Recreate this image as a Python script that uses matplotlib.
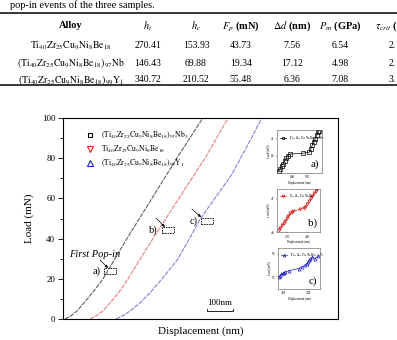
import matplotlib
matplotlib.use('Agg')
import matplotlib.pyplot as plt
from matplotlib.lines import Line2D
from matplotlib.patches import Rectangle

plt.rcParams['font.family'] = ['Liberation Serif', 'DejaVu Serif']
plt.rcParams['mathtext.fontset'] = 'stix'

W, H = 397, 340

# table values
headers = ['Alloy', r'$h_t$', r'$h_c$', r'$F_p$ (mN)', r'$\Delta d$ (nm)', r'$P_m$ (GPa)']
alloys = [r'$\mathrm{Ti_{40}Zr_{25}Cu_{9}Ni_{8}Be_{18}}$',
          r'$\mathrm{(Ti_{40}Zr_{25}Cu_{9}Ni_{8}Be_{18})_{97}Nb}$',
          r'$\mathrm{(Ti_{40}Zr_{25}Cu_{9}Ni_{8}Be_{18})_{99}Y_{1}}$']
ht = ['270.41', '146.43', '340.72']
hc = ['153.93', '69.88', '210.52']
Fp = ['43.73', '19.34', '55.48']
dd = ['7.56', '17.12', '6.36']
Pm = ['6.54', '4.98', '7.08']
tau = ['2.', '2.', '3.']

# main curves (displacement nm, load mN)
nb_x = [8, 30, 54, 74, 94, 122, 154, 200, 246, 294, 342, 390, 438, 488, 538]
nb_y = [0, 1.5, 4, 7, 10, 14.5, 20, 30, 40, 50, 60, 70, 80, 90, 100]
base_x = [104, 126, 154, 174, 194, 222, 250, 298, 346, 396, 446, 496, 546, 591, 635]
base_y = [0, 1.5, 4, 7, 10, 14.5, 20, 30, 40, 50, 60, 70, 80, 90, 100]
y1_x = [204, 235, 258, 296, 338, 381, 440, 478, 527, 570, 612, 650, 681, 725, 765]
y1_y = [0, 2, 4, 8, 13.5, 20, 29.5, 38, 49.5, 57.5, 65, 72, 79.5, 90, 100]

leg_labels = [r'$\mathrm{(Ti_{40}Zr_{25}Cu_{9}Ni_{8}Be_{18})_{97}Nb_{3}}$',
              r'$\mathrm{Ti_{40}Zr_{25}Cu_{9}Ni_{8}Be_{18}}$',
              r'$\mathrm{(Ti_{40}Zr_{25}Cu_{9}Ni_{8}Be_{18})_{99}Y_{1}}$']

# inset data around first pop-in
a_x = [131.0, 132.0, 133.0, 134.0, 135.0, 136.0, 137.0, 138.5, 147.5, 151.5, 152.5, 153.5, 154.5, 155.5, 156.5, 157.5, 158.0]
a_y = [17.2, 17.5, 17.8, 18.1, 18.4, 18.7, 19.0, 19.2, 19.3, 19.4, 19.8, 20.2, 20.6, 21.0, 21.4, 21.8, 21.9]
b_x = [265.8, 266.6, 267.4, 268.2, 269.0, 269.8, 270.6, 271.4, 272.4, 273.0, 276.3, 278.2, 278.7, 279.6, 280.5, 281.4, 282.3, 283.2, 284.0, 284.7]
b_y = [40.4, 40.9, 41.4, 41.9, 42.4, 42.9, 43.4, 43.9, 44.2, 44.3, 44.8, 45.1, 45.3, 45.9, 46.5, 47.1, 47.6, 48.1, 48.6, 49.0]
c_x = [337.3, 337.75, 338.2, 338.65, 339.1, 339.55, 340.75, 344.35, 345.55, 346.75, 347.2, 347.65, 348.1, 348.55, 349.0, 350.2, 351.4]
c_y = [52.1, 52.3, 52.5, 52.7, 52.8, 52.9, 53.1, 53.5, 53.8, 54.1, 54.3, 54.6, 54.9, 55.1, 55.4, 55.2, 55.6]


def fx(px):
    return px / W


def fy(py):
    return 1 - py / H


fig = plt.figure(figsize=(W / 100, H / 100), dpi=100)

# caption remnant + table
fig.text(fx(10), fy(0.5), 'pop-in events of the three samples.', fontsize=7.5, va='top')
fig.add_artist(Line2D([0, 1], [fy(13), fy(13)], lw=1.1, color='k'))
fig.add_artist(Line2D([0, 1], [fy(85), fy(85)], lw=1.1, color='k'))

col_x = [71, 148, 196, 241, 292, 340]
for x, h in zip(col_x, headers):
    fig.text(fx(x), fy(26), h, fontsize=7.5, fontweight='bold', ha='center', va='center')
fig.text(fx(375), fy(26), r'$\tau_{crit}$ (', fontsize=7.5, fontweight='bold', ha='left', va='center')

row_y = [46, 63, 80]
for i in range(3):
    vals = [alloys[i], ht[i], hc[i], Fp[i], dd[i], Pm[i]]
    for x, v in zip(col_x, vals):
        fig.text(fx(x), fy(row_y[i]), v, fontsize=7, ha='center', va='center')
    fig.text(fx(389), fy(row_y[i]), tau[i], fontsize=7, ha='left', va='center')

# main chart
ax = fig.add_axes([fx(63), fy(319), 275 / W, 201 / H])
ax.plot(nb_x, nb_y, color='#606060', lw=0.8, ls=(0, (4, 1)))
ax.plot(base_x, base_y, color='#e58080', lw=0.8, ls=(0, (4, 1)))
ax.plot(y1_x, y1_y, color='#8080d8', lw=0.8, ls=(0, (4, 1)))
ax.set_xlim(0, 1058)
ax.set_ylim(0, 100)
ax.set_xticks([])
ax.set_yticks([0, 20, 40, 60, 80, 100])
ax.set_yticks([10, 30, 50, 70, 90], minor=True)
ax.tick_params(axis='y', which='major', direction='out', length=3.5, width=0.6, labelsize=6.5, pad=2)
ax.tick_params(axis='y', which='minor', direction='out', length=2, width=0.6)
for s in ax.spines.values():
    s.set_linewidth(0.8)
ax.set_ylabel('Load (mN)', fontsize=8, labelpad=6)
ax.set_xlabel('Displacement (nm)', fontsize=8, labelpad=5)

handles = [Line2D([], [], marker='s', ls='none', mfc='none', mec='k', ms=3.5, mew=0.8),
           Line2D([], [], marker='v', ls='none', mfc='none', mec='#e02020', ms=4, mew=0.8),
           Line2D([], [], marker='^', ls='none', mfc='none', mec='#2020c0', ms=4, mew=0.8)]
ax.legend(handles, leg_labels, loc='upper left', bbox_to_anchor=(0.07, 0.96), frameon=False,
          fontsize=5.5, handlelength=1.0, handletextpad=1.0, labelspacing=0.4, borderpad=0)

# annotations
ax.text(23, 32.3, 'First Pop-in', fontsize=7.5, style='italic', va='center')
marks = [('a)', 131, 23.9, (158, 22.4), (142, 29.4), (173, 25.4)),
         ('b)', 346, 44.3, (381, 42.8), (358, 50.2), (392, 45.8)),
         ('c)', 504, 48.8, (531, 47.3), (496, 54.7), (531, 50.7))]
for lab, tx, ty, r0, p0, p1 in marks:
    ax.text(tx, ty, lab, fontsize=7.5, ha='center', va='center')
    ax.add_patch(Rectangle(r0, 46, 3, fill=False, ls=(0, (2, 1)), lw=0.6, ec='k'))
    ax.annotate('', xy=p1, xytext=p0, arrowprops=dict(arrowstyle='-|>', lw=0.5, color='k',
                                                      mutation_scale=4, shrinkA=0, shrinkB=0))

# 100 nm scale bar
ax.plot([554, 554, 654, 654], [5, 4, 4, 5], color='k', lw=0.6)
ax.text(604, 8, '100nm', fontsize=6.5, ha='center', va='center')

# insets
insets = [([277, 130, 45, 43], a_x, a_y, 's', 'k', (130, 160), [140, 150], (17, 22), [19, 21], 'a)', leg_labels[0]),
          ([277, 189, 43, 43], b_x, b_y, 'v', '#d42020', (265, 286), [270, 280], (40, 49), [40, 47], 'b)', leg_labels[1]),
          ([278, 248, 42, 41], c_x, c_y, '^', '#2020c0', (337, 352), [339, 348], (50, 57), [52, 56], 'c)', leg_labels[2])]
for box, xs, ys, mk, col, xl, xt, yl, yt, lab, leg in insets:
    l, t, w, h = box
    ia = fig.add_axes([fx(l), fy(t + h), w / W, h / H])
    ia.plot(xs, ys, color=col, marker=mk, mfc='none', mec=col, ms=2.2, mew=0.5, lw=0.5)
    ia.set_xlim(*xl)
    ia.set_ylim(*yl)
    ia.set_xticks(xt)
    ia.set_yticks(yt)
    ia.tick_params(labelsize=2.5, length=1, width=0.3, pad=0.8)
    for s in ia.spines.values():
        s.set_linewidth(0.4)
        s.set_color('#555555')
    ia.set_xlabel('Displacement (nm)', fontsize=2.2, labelpad=0.8)
    ia.set_ylabel('Load (mN)', fontsize=2.2, labelpad=0.8)
    ia.legend([Line2D([], [], color=col, marker=mk, mfc='none', mec=col, ms=2, mew=0.5, lw=0.5)], [leg],
              loc='upper left', frameon=False, fontsize=2.2, handlelength=2, borderpad=0.6)
    ia.text(0.93, 0.2, lab, transform=ia.transAxes, fontsize=8, ha='right', va='center')

fig.savefig('out.png', dpi=100)
